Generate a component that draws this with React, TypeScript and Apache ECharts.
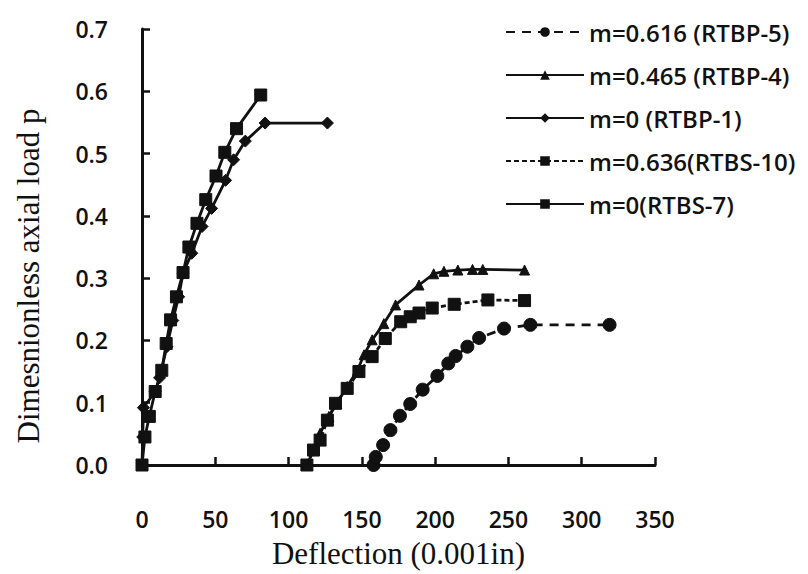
import React, { useEffect, useRef } from "react";
import * as echarts from "echarts";

// Deflection (0.001in) vs dimensionless axial load p for each specimen
const rtbp5X = [158, 159.5, 164.5, 169.5, 176, 183, 191.5, 201.5, 209, 214, 222, 230, 247, 265, 319];
const rtbp5Y = [0, 0.013, 0.032, 0.056, 0.079, 0.098, 0.121, 0.143, 0.163, 0.175, 0.19, 0.204, 0.219, 0.225, 0.225];

const rtbp4X = [112.5, 117, 121.5, 127.5, 133, 140, 147, 151.5, 157, 165, 173, 189, 199, 206, 215.5, 225.5, 232.5, 261];
const rtbp4Y = [0, 0.024, 0.051, 0.078, 0.099, 0.126, 0.152, 0.177, 0.201, 0.227, 0.257, 0.289, 0.307, 0.311, 0.313, 0.314, 0.314, 0.313];

const rtbp1X = [0, 0.5, 1, 9, 12, 17, 21, 25, 28, 34, 41, 47.5, 57, 62.5, 70.5, 84, 126.5];
const rtbp1Y = [0, 0.045, 0.092, 0.118, 0.14, 0.19, 0.232, 0.27, 0.308, 0.34, 0.383, 0.412, 0.457, 0.49, 0.52, 0.549, 0.549];

const rtbs10X = [112.5, 117, 121.5, 126.5, 132, 140, 148, 157, 166, 176.5, 183, 189, 198, 213, 236, 261];
const rtbs10Y = [0, 0.024, 0.04, 0.072, 0.099, 0.123, 0.15, 0.174, 0.203, 0.23, 0.238, 0.244, 0.252, 0.258, 0.265, 0.264];

const rtbs7X = [0, 2, 5, 9, 13.5, 16.5, 19.5, 23.5, 28, 32, 37.5, 43.5, 50.5, 56.5, 64.5, 81];
const rtbs7Y = [0, 0.045, 0.078, 0.118, 0.152, 0.195, 0.233, 0.27, 0.309, 0.35, 0.388, 0.426, 0.464, 0.502, 0.54, 0.594];

const xTicks = [0, 50, 100, 150, 200, 250, 300, 350];
const yTicks = [0, 0.1, 0.2, 0.3, 0.4, 0.5, 0.6, 0.7];

const pairs = (xs: number[], ys: number[]) => xs.map((x, i) => [x, ys[i]]);

const INK = "#111";
const SANS = "Open Sans";
const SERIF = "Liberation Serif";

export default function App() {
  const ref = useRef<HTMLDivElement>(null);

  useEffect(() => {
    if (!ref.current) return;
    const chart = echarts.init(ref.current, undefined, { renderer: "svg" });

    const mk = (
      name: string,
      xs: number[],
      ys: number[],
      symbol: string,
      symbolSize: number,
      dash: any
    ) => ({
      name,
      type: "line",
      data: pairs(xs, ys),
      symbol,
      symbolSize,
      showAllSymbol: true,
      lineStyle: { color: INK, width: 2.8, type: dash },
      itemStyle: { color: INK, borderColor: INK },
      emphasis: { disabled: true },
    });

    chart.setOption({
      animation: false,
      backgroundColor: "#fff",
      grid: {
        left: 142,
        right: 153,
        top: 29,
        bottom: 109,
        containLabel: false,
        outerBoundsMode: "none",
      },
      // vertical y-axis title, sitting a little below the axis midpoint
      graphic: [
        {
          type: "text",
          x: 28,
          y: 276,
          rotation: Math.PI / 2,
          style: {
            text: "Dimesnionless axial load p",
            fontFamily: SERIF,
            fontSize: 31,
            fill: INK,
            align: "center",
            verticalAlign: "middle",
          },
        },
      ],
      legend: {
        orient: "vertical",
        left: 500,
        top: 15,
        itemWidth: 78,
        itemHeight: 12,
        itemGap: 19,
        textStyle: { fontFamily: SANS, fontSize: 24, fontWeight: 600, color: INK },
        data: [
          "m=0.616 (RTBP-5)",
          "m=0.465 (RTBP-4)",
          "m=0 (RTBP-1)",
          "m=0.636(RTBS-10)",
          "m=0(RTBS-7)",
        ],
      },
      xAxis: {
        type: "value",
        min: 0,
        max: 350,
        interval: 50,
        name: "Deflection (0.001in)",
        nameLocation: "middle",
        nameGap: 73,
        nameTextStyle: { fontFamily: SERIF, fontSize: 31, color: INK },
        axisLine: { show: true, lineStyle: { color: INK, width: 3 } },
        axisTick: { show: true, inside: true, length: 8, lineStyle: { color: INK, width: 2.5 } },
        axisLabel: {
          margin: 42,
          fontFamily: SANS,
          fontSize: 23,
          fontWeight: 600,
          color: INK,
          formatter: (v: number) => (xTicks.includes(v) ? String(v) : ""),
        },
        splitLine: { show: false },
      },
      yAxis: {
        type: "value",
        min: 0,
        max: 0.7,
        interval: 0.1,
        axisLine: { show: true, lineStyle: { color: INK, width: 3 } },
        axisTick: { show: true, inside: true, length: 8, lineStyle: { color: INK, width: 2.5 } },
        axisLabel: {
          margin: 34,
          fontFamily: SANS,
          fontSize: 23,
          fontWeight: 600,
          color: INK,
          formatter: (v: number) => {
            const t = yTicks.find((y) => Math.abs(y - v) < 1e-6);
            return t === undefined ? "" : t.toFixed(1);
          },
        },
        splitLine: { show: false },
      },
      series: [
        mk("m=0.616 (RTBP-5)", rtbp5X, rtbp5Y, "circle", 13, [9, 7]),
        mk("m=0.465 (RTBP-4)", rtbp4X, rtbp4Y, "triangle", 10, "solid"),
        mk("m=0 (RTBP-1)", rtbp1X, rtbp1Y, "diamond", 12, "solid"),
        mk("m=0.636(RTBS-10)", rtbs10X, rtbs10Y, "rect", 12, [5, 3]),
        mk("m=0(RTBS-7)", rtbs7X, rtbs7Y, "rect", 12, "solid"),
      ],
    });

    return () => chart.dispose();
  }, []);

  return (
    <div
      ref={ref}
      style={{ position: "absolute", left: 0, top: 0, width: 808, height: 574, background: "#fff" }}
    />
  );
}
